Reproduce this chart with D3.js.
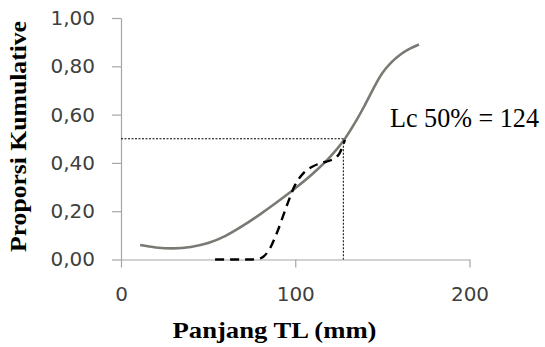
<!DOCTYPE html>
<html>
<head>
<meta charset="utf-8">
<script src="https://cdn.jsdelivr.net/npm/d3@7"></script>
<style>
  html, body { margin: 0; padding: 0; background: #fff; }
  svg { display: block; }
</style>
</head>
<body>
<svg id="chart" width="545" height="347"></svg>
<script>
// ---- data ----
const fittedX = [11, 20, 30, 40, 50, 60, 70, 80, 90, 100, 110, 120, 128, 135, 140, 145, 150, 155, 160, 165, 171];
const fittedY = [0.060, 0.050, 0.046, 0.052, 0.068, 0.098, 0.140, 0.188, 0.240, 0.295, 0.355, 0.425, 0.495, 0.575, 0.640, 0.710, 0.772, 0.815, 0.847, 0.870, 0.890];
const observedX = [54, 65, 75, 80, 85, 90, 95, 100, 105, 110, 115, 120, 125, 128.5];
const observedY = [0.0, 0.0, 0.0, 0.005, 0.04, 0.12, 0.22, 0.31, 0.36, 0.385, 0.40, 0.41, 0.435, 0.495];
const xTicks = [0, 100, 200];
const yTicks = [0, 0.2, 0.4, 0.6, 0.8, 1.0];
const lcValue = 127.6;   // drawn position of the reference lines
const lcProp = 0.5;
const lcLabel = "Lc 50% = 124";
const xTitle = "Panjang TL (mm)";
const yTitle = "Proporsi Kumulative";

// ---- layout ----
const svg = d3.select("#chart");
const x = d3.scaleLinear().domain([0, 200]).range([121, 469.5]);
const y = d3.scaleLinear().domain([0, 1]).range([259.5, 18]);
const fmt = d => d3.format(".2f")(d).replace(".", ",");

// axes
const xAxis = svg.append("g")
  .attr("transform", `translate(0,${y(0)})`)
  .call(d3.axisBottom(x).tickValues(xTicks).tickSize(8).tickSizeOuter(0).tickPadding(19).tickFormat(d3.format("d")));
const yAxis = svg.append("g")
  .attr("transform", `translate(${x(0)},0)`)
  .call(d3.axisLeft(y).tickValues(yTicks).tickSize(9).tickSizeOuter(0).tickPadding(17).tickFormat(fmt));

[xAxis, yAxis].forEach(g => {
  g.select(".domain").attr("stroke", "#a6a6a6").attr("stroke-width", 1.2);
  g.selectAll(".tick line").attr("stroke", "#a6a6a6").attr("stroke-width", 1.2);
  g.selectAll(".tick text")
    .attr("fill", "#404040")
    .style("font-family", "'DejaVu Sans', Verdana, sans-serif")
    .style("font-size", "20px");
});

// reference dotted lines
svg.append("line")
  .attr("x1", x(0)).attr("x2", x(lcValue))
  .attr("y1", y(lcProp)).attr("y2", y(lcProp))
  .attr("stroke", "#000").attr("stroke-width", 1).attr("stroke-dasharray", "2,1.5");
svg.append("line")
  .attr("x1", x(lcValue)).attr("x2", x(lcValue))
  .attr("y1", y(lcProp)).attr("y2", y(0))
  .attr("stroke", "#000").attr("stroke-width", 1).attr("stroke-dasharray", "2,1.5");

// curves
const fitted = fittedX.map((v, i) => [v, fittedY[i]]);
const observed = observedX.map((v, i) => [v, observedY[i]]);

svg.append("path")
  .datum(fitted)
  .attr("fill", "none")
  .attr("stroke", "#7a7a74")
  .attr("stroke-width", 2.6)
  .attr("d", d3.line().x(d => x(d[0])).y(d => y(d[1])).curve(d3.curveCatmullRom));

svg.append("path")
  .datum(observed)
  .attr("fill", "none")
  .attr("stroke", "#000")
  .attr("stroke-width", 2.4)
  .attr("stroke-dasharray", "9,6")
  .attr("d", d3.line().x(d => x(d[0])).y(d => y(d[1])).curve(d3.curveMonotoneX));

// texts
svg.append("text")
  .attr("x", 390).attr("y", 127)
  .attr("textLength", 149).attr("lengthAdjust", "spacingAndGlyphs")
  .style("font-family", "'Liberation Serif', 'Times New Roman', serif")
  .style("font-size", "27px")
  .attr("fill", "#000")
  .text(lcLabel);

svg.append("text")
  .attr("x", 172.5).attr("y", 338)
  .attr("textLength", 204).attr("lengthAdjust", "spacingAndGlyphs")
  .style("font-family", "'Liberation Serif', 'Times New Roman', serif")
  .style("font-size", "24px")
  .style("font-weight", "bold")
  .attr("fill", "#000")
  .text(xTitle);

svg.append("text")
  .attr("transform", "translate(26,252) rotate(-90)")
  .attr("x", 0).attr("y", 0)
  .attr("textLength", 231).attr("lengthAdjust", "spacingAndGlyphs")
  .style("font-family", "'Liberation Serif', 'Times New Roman', serif")
  .style("font-size", "24px")
  .style("font-weight", "bold")
  .attr("fill", "#000")
  .text(yTitle);
</script>
</body>
</html>
